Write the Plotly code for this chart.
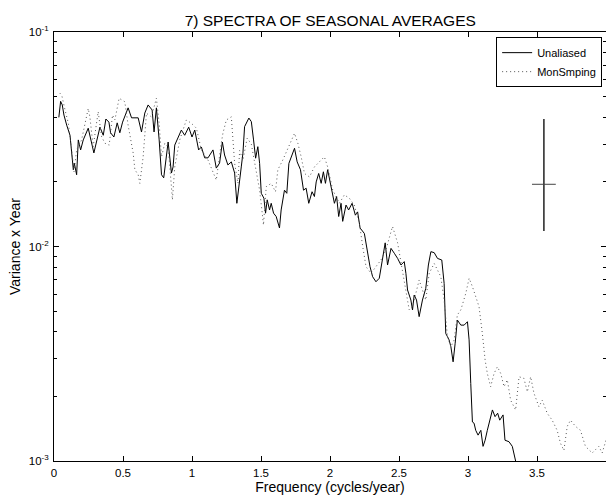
import plotly.graph_objects as go

# Unaliased spectrum (solid)
freq_unaliased = [0.035, 0.048, 0.06, 0.072, 0.092, 0.116, 0.14, 0.147, 0.164, 0.176, 0.193, 0.212, 0.248, 0.289,
                  0.333, 0.357, 0.376, 0.398, 0.41, 0.434, 0.458, 0.477, 0.497, 0.537, 0.562, 0.61, 0.634, 0.658,
                  0.682, 0.711, 0.725, 0.742, 0.762, 0.779, 0.795, 0.827, 0.851, 0.863, 0.875, 0.923, 0.947, 0.976,
                  1.0, 1.02, 1.048, 1.068, 1.092, 1.116, 1.152, 1.176, 1.2, 1.22, 1.236, 1.26, 1.285, 1.309, 1.325,
                  1.345, 1.357, 1.369, 1.381, 1.412, 1.43, 1.446, 1.461, 1.477, 1.49, 1.502, 1.521, 1.533, 1.545,
                  1.562, 1.574, 1.591, 1.61, 1.634, 1.646, 1.67, 1.687, 1.702, 1.731, 1.743, 1.762, 1.786, 1.808,
                  1.827, 1.846, 1.87, 1.887, 1.9, 1.918, 1.936, 1.952, 1.967, 1.983, 2.008, 2.032, 2.048, 2.063,
                  2.08, 2.092, 2.116, 2.135, 2.16, 2.184, 2.2, 2.218, 2.249, 2.273, 2.29, 2.309, 2.333, 2.357, 2.376,
                  2.4, 2.417, 2.442, 2.466, 2.49, 2.514, 2.538, 2.55, 2.562, 2.586, 2.598, 2.61, 2.627, 2.646, 2.67,
                  2.694, 2.713, 2.731, 2.755, 2.779, 2.81, 2.827, 2.839, 2.851, 2.863, 2.876, 2.892, 2.907, 2.923,
                  2.948, 2.972, 2.996, 3.008, 3.02, 3.032, 3.044, 3.056, 3.073, 3.093, 3.109, 3.124, 3.14, 3.157,
                  3.177, 3.196, 3.215, 3.23, 3.254, 3.268, 3.297, 3.321, 3.34, 3.345]
var_unaliased = [0.040, 0.0475, 0.0457, 0.041, 0.0368, 0.033, 0.0228, 0.0245, 0.0216, 0.0314, 0.0282, 0.0314, 0.0356,
                 0.0273, 0.036, 0.033, 0.0393, 0.038, 0.0339, 0.0324, 0.0377, 0.0339, 0.038, 0.0443, 0.0398, 0.0398,
                 0.0342, 0.0419, 0.0457, 0.0433, 0.0342, 0.0443, 0.0314, 0.0216, 0.0209, 0.0307, 0.022, 0.0235,
                 0.0297, 0.0349, 0.033, 0.036, 0.0324, 0.0349, 0.0282, 0.0291, 0.0259, 0.0259, 0.0282, 0.0232,
                 0.0245, 0.0307, 0.0267, 0.024, 0.0248, 0.022, 0.0159, 0.0211, 0.0235, 0.0272, 0.0362, 0.0397,
                 0.0382, 0.0314, 0.0258, 0.0292, 0.0244, 0.0177, 0.0168, 0.0143, 0.0165, 0.0148, 0.0159, 0.0143,
                 0.0138, 0.0122, 0.0148, 0.0183, 0.0177, 0.0244, 0.0272, 0.0287, 0.0248, 0.0228, 0.0183, 0.0187,
                 0.0159, 0.018, 0.0171, 0.020, 0.0219, 0.0197, 0.0223, 0.0197, 0.0228, 0.019, 0.0159, 0.0171,
                 0.0138, 0.0159, 0.0131, 0.0156, 0.0148, 0.0159, 0.014, 0.0145, 0.0122, 0.0115, 0.00946, 0.00805,
                 0.00723, 0.00685, 0.00711, 0.0085, 0.0104, 0.0082, 0.0098, 0.0093, 0.0088, 0.0082, 0.0085, 0.0075,
                 0.00627, 0.00563, 0.00506, 0.00594, 0.00563, 0.00471, 0.00563, 0.00638, 0.0082, 0.00946, 0.00936,
                 0.0088, 0.00865, 0.00673, 0.00393, 0.0038, 0.00367, 0.00341, 0.0029, 0.00354, 0.00454, 0.0043,
                 0.0043, 0.00446, 0.00367, 0.0023, 0.00152, 0.0015, 0.00139, 0.00132, 0.00139, 0.00117, 0.00125,
                 0.00139, 0.00155, 0.00173, 0.00161, 0.00167, 0.00155, 0.00164, 0.00125, 0.00123, 0.00117, 0.00103,
                 0.00100]

# Monthly-sampling spectrum (dotted)
freq_monsmp = [0.043, 0.056, 0.08, 0.104, 0.128, 0.145, 0.164, 0.2, 0.248, 0.26, 0.284, 0.32, 0.345, 0.369, 0.4,
               0.424, 0.441, 0.472, 0.513, 0.537, 0.574, 0.586, 0.61, 0.622, 0.646, 0.67, 0.706, 0.742, 0.762, 0.779,
               0.803, 0.827, 0.851, 0.858, 0.875, 0.911, 0.959, 0.996, 1.032, 1.068, 1.116, 1.176, 1.212, 1.224,
               1.249, 1.285, 1.309, 1.333, 1.345, 1.369, 1.40, 1.43, 1.466, 1.49, 1.509, 1.518, 1.538, 1.574, 1.605,
               1.622, 1.658, 1.702, 1.743, 1.767, 1.791, 1.815, 1.851, 1.887, 1.911, 1.959, 1.983, 2.02, 2.044,
               2.068, 2.104, 2.14, 2.176, 2.213, 2.237, 2.261, 2.297, 2.333, 2.369, 2.405, 2.453, 2.49, 2.538, 2.574,
               2.598, 2.646, 2.694, 2.719, 2.755, 2.779, 2.803, 2.827, 2.851, 2.876, 2.9, 2.923, 2.948, 2.984, 3.008,
               3.032, 3.056, 3.08, 3.104, 3.124, 3.14, 3.164, 3.189, 3.213, 3.237, 3.261, 3.285, 3.309, 3.345, 3.37,
               3.405, 3.43, 3.454, 3.478, 3.514, 3.538, 3.574, 3.61, 3.646, 3.67, 3.695, 3.719, 3.743, 3.779, 3.815,
               3.851, 3.9, 3.948, 3.972, 4.0]
var_monsmp = [0.0518, 0.0508, 0.0433, 0.0375, 0.0282, 0.0223, 0.0282, 0.0314, 0.044, 0.0402, 0.0292, 0.0425, 0.0325,
              0.0303, 0.0297, 0.041, 0.0389, 0.0491, 0.0473, 0.0368, 0.0272, 0.0228, 0.0216, 0.0197, 0.0262, 0.0418,
              0.0402, 0.0491, 0.0375, 0.0262, 0.0303, 0.0292, 0.019, 0.0165, 0.0235, 0.0314, 0.0389, 0.0375, 0.0356,
              0.0282, 0.0253, 0.0204, 0.0303, 0.0337, 0.0389, 0.0402, 0.0244, 0.0197, 0.028, 0.0253, 0.032, 0.030,
              0.0223, 0.0183, 0.0143, 0.0126, 0.019, 0.0197, 0.018, 0.0228, 0.0253, 0.0292, 0.0337, 0.0303, 0.0262,
              0.0219, 0.0211, 0.0235, 0.0244, 0.0262, 0.0235, 0.0183, 0.0171, 0.0159, 0.0174, 0.0168, 0.0156,
              0.0128, 0.010, 0.00805, 0.0075, 0.00805, 0.00865, 0.00964, 0.0124, 0.0104, 0.00673, 0.00506, 0.00524,
              0.00698, 0.00563, 0.0075, 0.00834, 0.00776, 0.00723, 0.00563, 0.0038, 0.00341, 0.00367, 0.0048,
              0.00506, 0.00605, 0.00711, 0.0065, 0.00583, 0.00524, 0.00393, 0.00296, 0.00256, 0.00222, 0.00256,
              0.00275, 0.00256, 0.00222, 0.00239, 0.00192, 0.00173, 0.00247, 0.00243, 0.0021, 0.00247, 0.00207,
              0.00179, 0.00192, 0.00167, 0.00155, 0.00139, 0.00121, 0.00112, 0.00145, 0.00155, 0.00145, 0.00139,
              0.00117, 0.00109, 0.00117, 0.00109, 0.00125]

# Confidence bar
conf_freq = [3.55]
conf_center = [0.0195]
conf_low = [0.0118]
conf_high = [0.0393]

y_tickvals = [1e-3, 1e-2, 1e-1]
y_ticktext = ["10<sup>-3</sup>", "10<sup>-2</sup>", "10<sup>-1</sup>"]
y_minor = [m * 10.0 ** e for e in (-3, -2) for m in range(2, 10)]
x_tickvals = [0, 0.5, 1, 1.5, 2, 2.5, 3, 3.5, 4]
x_ticktext = ["0", "0.5", "1", "1.5", "2", "2.5", "3", "3.5", "4"]

FONT = "Liberation Sans, Arial, Helvetica, sans-serif"

fig = go.Figure()
fig.add_trace(go.Scatter(x=freq_unaliased, y=var_unaliased, mode="lines", name="Unaliased",
                         line=dict(color="black", width=1)))
fig.add_trace(go.Scatter(x=freq_monsmp, y=var_monsmp, mode="lines", name="MonSmping",
                         line=dict(color="#555555", width=1, dash="1px,3px")))
fig.add_trace(go.Scatter(
    x=conf_freq, y=conf_center, mode="markers", showlegend=False,
    marker=dict(symbol="line-ew-open", size=17, color="#444444", line=dict(width=1, color="#444444")),
    error_y=dict(type="data", symmetric=False,
                 array=[conf_high[0] - conf_center[0]],
                 arrayminus=[conf_center[0] - conf_low[0]],
                 width=0, thickness=1.5, color="#222222")))

fig.update_layout(
    width=606, height=497,
    margin=dict(l=54, r=0, t=32, b=36),
    paper_bgcolor="white", plot_bgcolor="white",
    font=dict(family=FONT, size=11, color="black"),
    title=dict(text="7) SPECTRA OF SEASONAL AVERAGES", x=0.545, xanchor="center", y=0.958, yanchor="middle",
               font=dict(family=FONT, size=15.5, color="black")),
    showlegend=True,
    legend=dict(x=0.993, xanchor="right", y=0.988, yanchor="top", bgcolor="white",
                bordercolor="black", borderwidth=1, font=dict(family=FONT, size=11),
                tracegroupgap=0, itemwidth=30),
)
fig.update_xaxes(
    range=[0, 4], tickvals=x_tickvals, ticktext=x_ticktext,
    showgrid=False, zeroline=False, showline=True, linecolor="black", linewidth=1, mirror="ticks",
    ticks="inside", ticklen=5, tickcolor="black", ticklabelstandoff=1,
    tickfont=dict(family=FONT, size=11.5),
    title=dict(text="Frequency (cycles/year)", font=dict(family=FONT, size=14), standoff=2),
)
fig.update_yaxes(
    type="log", range=[-3, -1], tickvals=y_tickvals, ticktext=y_ticktext,
    showgrid=False, zeroline=False, showline=True, linecolor="black", linewidth=1, mirror="allticks",
    ticks="inside", ticklen=5, tickcolor="black", ticklabelstandoff=2,
    tickfont=dict(family=FONT, size=11.5),
    minor=dict(tickvals=y_minor, ticks="inside", ticklen=3, tickcolor="black", showgrid=False),
    title=dict(text="Variance x Year", font=dict(family=FONT, size=14), standoff=4),
)

fig.write_html("out.html")
